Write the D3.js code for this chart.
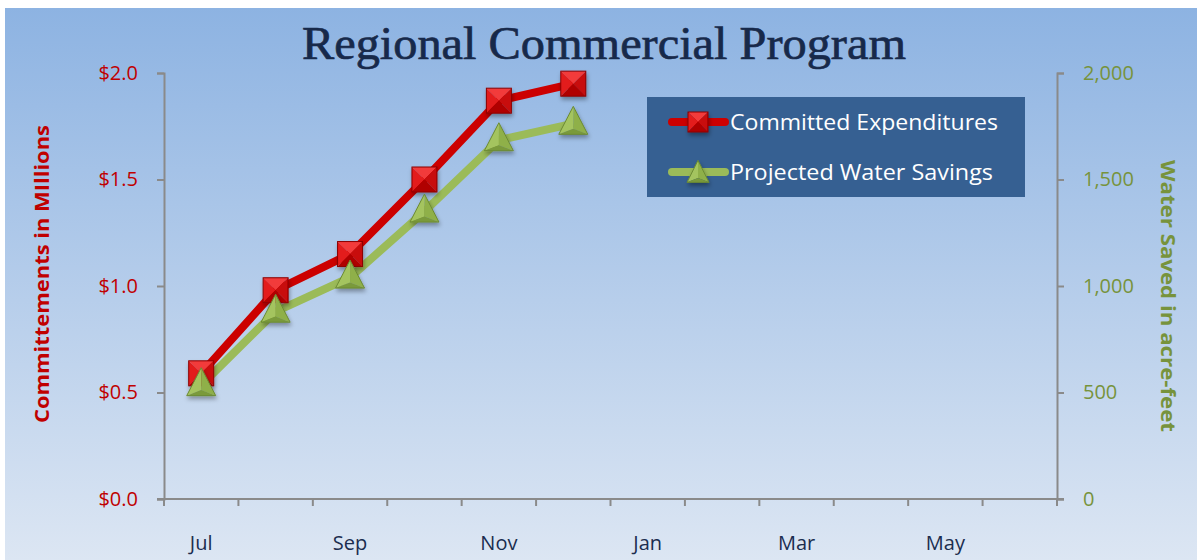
<!DOCTYPE html>
<html>
<head>
<meta charset="utf-8">
<script src="https://cdn.jsdelivr.net/npm/d3@7"></script>
<style>
  html, body { margin: 0; padding: 0; background: #fff; }
  svg { display: block; }
</style>
</head>
<body>
<script>
// chart values
const months = ['Jul', 'Aug', 'Sep', 'Oct', 'Nov', 'Dec', 'Jan', 'Feb', 'Mar', 'Apr', 'May', 'Jun'];
const monthLabels = ['Jul', 'Sep', 'Nov', 'Jan', 'Mar', 'May'];
const expenditures = [0.59, 0.98, 1.15, 1.50, 1.87, 1.95];   // $ millions
const waterSavings = [535, 880, 1040, 1350, 1685, 1762];     // acre-feet
const leftTicks = [0, 0.5, 1.0, 1.5, 2.0];
const rightTicks = [0, 500, 1000, 1500, 2000];

const width = 1197, height = 560;
const margin = { top: 73, right: 140, bottom: 61, left: 164 };

const svg = d3.select('body').append('svg')
    .attr('width', width)
    .attr('height', height);

const defs = svg.append('defs');
const bg = defs.append('linearGradient').attr('id', 'bg')
    .attr('x1', 0).attr('y1', 0).attr('x2', 0).attr('y2', 1);
bg.append('stop').attr('offset', '0%').attr('stop-color', '#8db3e2');
bg.append('stop').attr('offset', '100%').attr('stop-color', '#dce6f3');

const shadow = defs.append('filter').attr('id', 'shadow')
    .attr('x', '-50%').attr('y', '-50%').attr('width', '200%').attr('height', '200%');
shadow.append('feDropShadow')
    .attr('dx', 1).attr('dy', 3).attr('stdDeviation', 2)
    .attr('flood-color', '#000').attr('flood-opacity', 0.35);

// background panel
svg.append('rect')
    .attr('x', 5).attr('y', 8)
    .attr('width', width - 5).attr('height', height - 8)
    .attr('fill', 'url(#bg)');

// title
svg.append('text')
    .attr('x', 604).attr('y', 59)
    .attr('text-anchor', 'middle')
    .attr('font-family', '"Liberation Serif", "DejaVu Serif", serif')
    .attr('font-size', 47)
    .attr('textLength', 604)
    .attr('lengthAdjust', 'spacingAndGlyphs')
    .attr('fill', '#17294a')
    .attr('stroke', '#17294a')
    .attr('stroke-width', 0.7)
    .text('Regional Commercial Program');

const x0 = margin.left, x1 = width - margin.right;
const y0 = height - margin.bottom, y1 = margin.top;

const x = d3.scaleBand().domain(months).range([x0, x1]);
const yL = d3.scaleLinear().domain([0, 2]).range([y0, y1]);
const yR = d3.scaleLinear().domain([0, 2000]).range([y0, y1]);

const axisColor = '#8a8a8a';
const tickFont = '"Open Sans", "Noto Sans", sans-serif';

// left axis
const gL = svg.append('g').attr('transform', `translate(${x0},0)`)
    .call(d3.axisLeft(yL).tickValues(leftTicks).tickSize(7).tickPadding(19)
        .tickFormat(d => '$' + d3.format('.1f')(d)));
gL.select('.domain').attr('stroke', axisColor).attr('stroke-width', 2);
gL.selectAll('.tick line').attr('stroke', axisColor).attr('stroke-width', 2);
gL.selectAll('.tick text')
    .attr('fill', '#c00000')
    .attr('font-family', tickFont)
    .attr('font-size', 20);

// right axis
const gR = svg.append('g').attr('transform', `translate(${x1},0)`)
    .call(d3.axisRight(yR).tickValues(rightTicks).tickSize(7).tickPadding(19)
        .tickFormat(d3.format(',')));
gR.select('.domain').attr('stroke', axisColor).attr('stroke-width', 2);
gR.selectAll('.tick line').attr('stroke', axisColor).attr('stroke-width', 2);
gR.selectAll('.tick text')
    .attr('fill', '#77933c')
    .attr('font-family', tickFont)
    .attr('font-size', 20);

// bottom axis: ticks on band edges, labels every other month
const edges = months.map(m => x(m)).concat([x1]);
const gX = svg.append('g');
gX.append('line')
    .attr('x1', x0 - 7).attr('x2', x1 + 7)
    .attr('y1', y0).attr('y2', y0)
    .attr('stroke', axisColor).attr('stroke-width', 2);
gX.selectAll('line.tk').data(edges).join('line')
    .attr('class', 'tk')
    .attr('x1', d => d).attr('x2', d => d)
    .attr('y1', y0).attr('y2', y0 + 7)
    .attr('stroke', axisColor).attr('stroke-width', 2);
gX.selectAll('text').data(monthLabels).join('text')
    .attr('x', d => x(d) + x.bandwidth() / 2)
    .attr('y', 550)
    .attr('text-anchor', 'middle')
    .attr('font-family', tickFont)
    .attr('font-size', 20)
    .attr('fill', '#1b2d4f')
    .text(d => d);

// axis titles
svg.append('text')
    .attr('transform', 'translate(49,274) rotate(-90)')
    .attr('text-anchor', 'middle')
    .attr('font-family', tickFont)
    .attr('font-weight', 'bold')
    .attr('font-size', 20)
    .attr('textLength', 298)
    .attr('lengthAdjust', 'spacingAndGlyphs')
    .attr('fill', '#c00000')
    .text('Committements in MIllions');

svg.append('text')
    .attr('transform', 'translate(1161,296) rotate(90)')
    .attr('text-anchor', 'middle')
    .attr('font-family', tickFont)
    .attr('font-weight', 'bold')
    .attr('font-size', 20)
    .attr('textLength', 272)
    .attr('lengthAdjust', 'spacingAndGlyphs')
    .attr('fill', '#77933c')
    .text('Water Saved in acre-feet');

// marker helpers: bevelled square and pyramid triangle
function square(g, cx, cy, s) {
  const h = s / 2;
  const m = g.append('g').attr('transform', `translate(${cx},${cy})`).attr('filter', 'url(#shadow)');
  const facets = [
    { p: [[-h, -h], [h, -h], [0, 0]], c: '#f23a3a' },
    { p: [[-h, -h], [-h, h], [0, 0]], c: '#e31b1b' },
    { p: [[h, -h], [h, h], [0, 0]], c: '#c80a0a' },
    { p: [[-h, h], [h, h], [0, 0]], c: '#b00000' }
  ];
  facets.forEach(f => m.append('path').attr('d', d3.line()(f.p) + 'Z').attr('fill', f.c));
  m.append('rect').attr('x', -h).attr('y', -h).attr('width', s).attr('height', s)
      .attr('fill', 'none').attr('stroke', '#8c0000').attr('stroke-width', 1);
}

function triangle(g, cx, cy, w, hgt) {
  const m = g.append('g').attr('transform', `translate(${cx},${cy})`).attr('filter', 'url(#shadow)');
  const top = [0, -hgt * 0.62], bl = [-w / 2, hgt * 0.38], br = [w / 2, hgt * 0.38], c = [0, hgt * 0.18];
  m.append('path').attr('d', d3.line()([top, bl, c]) + 'Z').attr('fill', '#a4c45e');
  m.append('path').attr('d', d3.line()([top, br, c]) + 'Z').attr('fill', '#8fb04a');
  m.append('path').attr('d', d3.line()([bl, br, c]) + 'Z').attr('fill', '#7a9a3a');
  m.append('path').attr('d', d3.line()([top, bl, br]) + 'Z')
      .attr('fill', 'none').attr('stroke', '#6b8a33').attr('stroke-width', 1);
}

const cxOf = i => x(months[i]) + x.bandwidth() / 2;

// series lines
const plot = svg.append('g');
const lineL = d3.line().x((d, i) => cxOf(i)).y(d => yL(d));
const lineR = d3.line().x((d, i) => cxOf(i)).y(d => yR(d));

plot.append('path').datum(waterSavings)
    .attr('d', lineR).attr('fill', 'none')
    .attr('stroke', '#9bbb59').attr('stroke-width', 8)
    .attr('stroke-linejoin', 'round');
plot.append('path').datum(expenditures)
    .attr('d', lineL).attr('fill', 'none')
    .attr('stroke', '#cc0000').attr('stroke-width', 8)
    .attr('stroke-linejoin', 'round');

expenditures.forEach((d, i) => square(plot, cxOf(i), yL(d), 25));
waterSavings.forEach((d, i) => triangle(plot, cxOf(i), yR(d), 29, 28));

// legend
const lg = svg.append('g');
lg.append('rect')
    .attr('x', 647).attr('y', 97).attr('width', 378).attr('height', 100)
    .attr('fill', '#366092');
const legendItems = [
  { name: 'Committed Expenditures', color: '#cc0000', y: 122, mark: 'sq' },
  { name: 'Projected Water Savings', color: '#9bbb59', y: 172, mark: 'tri' }
];
legendItems.forEach(it => {
  lg.append('line')
      .attr('x1', 672).attr('x2', 725).attr('y1', it.y).attr('y2', it.y)
      .attr('stroke', it.color).attr('stroke-width', 8).attr('stroke-linecap', 'round');
  if (it.mark === 'sq') square(lg, 698, it.y, 20);
  else triangle(lg, 698, it.y + 2, 22, 22);
  lg.append('text')
      .attr('x', 730).attr('y', it.y + 8)
      .attr('font-family', tickFont)
      .attr('font-size', 22)
      .attr('textLength', it.mark === 'sq' ? 268 : 263)
      .attr('lengthAdjust', 'spacingAndGlyphs')
      .attr('fill', '#ffffff')
      .text(it.name);
});
</script>
</body>
</html>
